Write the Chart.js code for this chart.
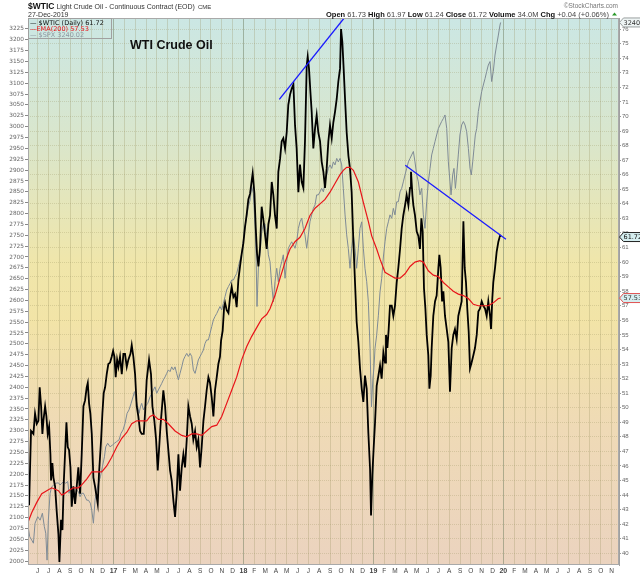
<!DOCTYPE html>
<html>
<head>
<meta charset="utf-8">
<script src="https://cdn.jsdelivr.net/npm/chart.js@4.4.1/dist/chart.umd.min.js"></script>
<style>
  html, body { margin: 0; padding: 0; background: #fff; }
  #wrap { width: 640px; height: 576px; }
</style>
</head>
<body>
<div id="wrap"><canvas id="chart" width="640" height="576"></canvas></div>
<script>
// x = months since Jan 2016 (12 = Jan 2017, 48 = Jan 2020)
var monthLetters = ['J', 'F', 'M', 'A', 'M', 'J', 'J', 'A', 'S', 'O', 'N', 'D'];
var monthTicks = [];
for (var mt = 5; mt <= 58; mt++) monthTicks.push(mt);
var spxTicks = [];
for (var st = 2000; st <= 3225; st += 25) spxTicks.push(st);
var wticTicks = [];
for (var wt = 40; wt <= 76; wt++) wticTicks.push(wt);

// $WTIC daily close (right axis)
var wtic = [
  [4.08,44.3],[4.20,43.3],[4.38,48.4],[4.60,48.2],[4.75,49.6],[4.91,48.9],[5.06,49.1],[5.18,51.4],[5.31,50.1],[5.43,48.2],
  [5.52,49.1],[5.68,50.1],[5.80,49.4],[5.92,48.2],[6.05,48.7],[6.17,46.8],[6.23,45.0],[6.35,46.2],[6.45,45.2],[6.60,44.6],
  [6.75,42.9],[6.91,41.3],[7.00,39.4],[7.15,42.3],[7.28,41.6],[7.40,44.8],[7.52,46.8],[7.65,49.0],[7.77,47.3],[7.89,47.1],
  [8.02,45.9],[8.14,43.2],[8.29,44.6],[8.45,43.4],[8.60,44.6],[8.75,45.9],[8.91,44.1],[9.06,46.8],[9.22,50.1],[9.37,50.5],
  [9.52,51.4],[9.62,51.7],[9.74,50.3],[9.86,49.6],[9.99,48.2],[10.14,45.2],[10.29,44.6],[10.39,44.1],[10.54,43.4],[10.66,45.5],
  [10.85,47.8],[10.97,49.6],[11.09,51.0],[11.22,51.4],[11.37,52.3],[11.52,53.0],[11.68,53.1],[11.83,53.5],[11.96,53.9],[12.08,53.5],
  [12.20,52.1],[12.33,53.3],[12.45,52.8],[12.60,53.5],[12.76,52.3],[12.91,53.7],[13.06,53.7],[13.22,52.8],[13.37,53.3],[13.56,53.7],
  [13.68,54.3],[13.83,53.5],[13.99,52.3],[14.14,50.1],[14.29,49.4],[14.45,48.4],[14.60,48.2],[14.79,48.2],[14.91,49.6],[15.06,51.9],
  [15.28,53.3],[15.46,52.3],[15.59,50.1],[15.77,49.1],[15.93,47.8],[16.08,45.7],[16.20,47.1],[16.33,48.7],[16.45,49.8],[16.60,51.2],
  [16.76,50.1],[16.91,48.4],[17.06,47.1],[17.22,45.7],[17.37,45.0],[17.53,43.6],[17.68,42.5],[17.83,44.1],[17.99,46.8],[18.14,44.3],
  [18.30,45.9],[18.45,46.8],[18.60,45.9],[18.76,47.8],[18.91,50.1],[19.07,49.4],[19.22,48.9],[19.37,47.8],[19.53,48.4],[19.68,47.3],
  [19.83,47.8],[19.99,45.9],[20.14,47.3],[20.30,49.1],[20.45,50.1],[20.60,51.2],[20.76,52.1],[20.91,51.7],[21.07,50.7],[21.22,49.4],
  [21.37,51.2],[21.53,52.1],[21.68,53.0],[21.83,53.5],[21.93,54.6],[22.08,55.3],[22.21,56.9],[22.30,57.2],[22.45,56.7],[22.61,56.5],
  [22.76,57.6],[22.91,58.3],[23.07,57.6],[23.22,57.8],[23.37,56.9],[23.53,58.8],[23.68,59.7],[23.84,60.6],[23.99,61.3],[24.14,62.4],
  [24.30,63.3],[24.45,64.3],[24.61,64.7],[24.76,65.6],[24.85,66.1],[25.01,64.7],[25.13,62.4],[25.25,60.6],[25.38,59.7],[25.53,61.0],
  [25.68,63.8],[25.84,62.9],[25.99,61.9],[26.14,60.9],[26.30,62.6],[26.45,63.2],[26.61,65.5],[26.76,64.6],[26.91,63.2],[27.07,62.3],
  [27.22,66.2],[27.38,67.1],[27.53,68.3],[27.68,68.5],[27.84,67.8],[27.99,68.9],[28.14,70.8],[28.30,71.5],[28.45,71.9],[28.61,72.2],
  [28.76,69.4],[28.91,67.8],[29.07,64.8],[29.22,66.7],[29.38,65.5],[29.53,65.1],[29.68,68.3],[29.84,73.5],[29.93,74.1],[30.05,73.3],
  [30.18,71.7],[30.30,70.3],[30.45,67.8],[30.61,69.2],[30.76,70.1],[30.91,68.9],[31.07,68.3],[31.22,66.9],[31.38,66.2],[31.53,65.1],
  [31.68,66.4],[31.84,68.3],[31.99,69.4],[32.15,68.5],[32.30,69.6],[32.45,70.3],[32.61,71.2],[32.76,72.4],[32.92,73.3],[33.01,76.0],
  [33.13,75.1],[33.25,73.3],[33.38,71.2],[33.53,68.9],[33.69,67.3],[33.84,66.4],[33.99,64.8],[34.15,61.4],[34.30,58.6],[34.45,55.9],
  [34.61,54.5],[34.76,52.7],[34.92,51.3],[35.07,50.4],[35.22,52.2],[35.38,51.3],[35.53,48.3],[35.69,45.8],[35.78,42.6],[35.90,45.4],
  [36.02,47.2],[36.15,49.0],[36.30,51.5],[36.46,52.2],[36.61,52.9],[36.76,52.0],[36.92,53.8],[37.07,53.1],[37.16,55.0],[37.29,54.1],
  [37.41,55.4],[37.53,57.0],[37.69,57.0],[37.84,56.3],[37.99,57.0],[38.15,58.6],[38.30,59.6],[38.46,60.9],[38.61,62.3],[38.76,63.2],
  [38.92,63.9],[39.07,64.6],[39.23,63.9],[39.38,65.1],[39.47,66.2],[39.60,64.6],[39.69,63.9],[39.84,63.2],[40.00,62.1],[40.15,61.8],
  [40.30,60.9],[40.43,63.0],[40.55,62.1],[40.67,58.2],[40.80,56.8],[40.92,55.0],[41.07,53.6],[41.17,51.3],[41.29,52.2],[41.38,54.1],
  [41.53,56.3],[41.69,57.3],[41.84,57.7],[42.00,59.6],[42.09,60.5],[42.21,59.6],[42.34,57.3],[42.46,58.0],[42.61,56.3],[42.77,55.4],
  [42.92,54.5],[43.07,51.1],[43.23,54.1],[43.38,55.0],[43.53,55.4],[43.69,54.7],[43.84,56.3],[43.99,56.8],[44.15,57.3],[44.31,62.8],
  [44.43,59.6],[44.55,58.6],[44.67,56.8],[44.80,55.2],[44.92,52.7],[45.07,53.1],[45.23,53.6],[45.38,54.1],[45.54,55.0],[45.69,56.6],
  [45.84,56.8],[46.00,57.3],[46.15,57.0],[46.31,56.8],[46.46,56.3],[46.61,57.3],[46.77,56.3],[46.86,55.4],[46.98,57.5],[47.07,58.6],
  [47.23,59.6],[47.38,60.7],[47.54,61.4],[47.69,61.8],[47.75,61.72]
];

// EMA(200) of $WTIC (right axis)
var ema200 = [
  [4.08,42.1],[4.45,42.8],[4.91,43.5],[5.37,44.1],[5.83,44.3],[6.29,44.5],[6.60,44.4],[6.91,44.3],[7.22,44.0],[7.46,44.1],
  [7.83,44.3],[8.29,44.5],[8.75,44.5],[9.06,44.7],[9.52,45.1],[9.99,45.6],[10.45,45.6],[10.91,45.6],[11.37,46.0],[11.83,46.6],
  [12.29,47.3],[12.76,47.9],[13.22,48.3],[13.68,48.9],[14.14,49.1],[14.60,49.1],[15.06,49.1],[15.37,49.4],[15.68,49.5],[16.14,49.2],
  [16.60,49.2],[17.06,48.9],[17.68,48.4],[18.30,48.1],[18.76,48.0],[19.22,48.2],[19.68,48.2],[20.14,48.1],[20.60,48.4],[21.07,48.7],
  [21.53,48.8],[21.99,49.4],[22.45,50.3],[22.91,51.2],[23.37,52.1],[23.84,53.3],[24.30,54.2],[24.76,54.9],[25.22,55.5],[25.68,56.1],
  [26.14,56.4],[26.45,56.8],[26.91,57.7],[27.38,58.9],[27.84,60.0],[28.30,60.9],[28.76,61.4],[29.22,61.7],[29.68,62.3],[30.14,63.2],
  [30.61,63.7],[31.07,64.0],[31.53,64.3],[31.99,64.8],[32.45,65.4],[32.92,66.0],[33.22,66.3],[33.53,66.5],[33.84,66.5],[34.15,66.3],
  [34.61,65.5],[35.07,64.1],[35.53,62.8],[35.84,61.8],[36.30,60.9],[36.61,60.2],[37.07,59.3],[37.53,59.1],[37.99,58.9],[38.46,58.9],
  [38.92,59.2],[39.38,59.7],[39.84,60.0],[40.30,60.1],[40.61,60.0],[41.07,59.4],[41.53,59.1],[42.00,59.0],[42.46,58.6],[42.92,58.3],
  [43.38,58.0],[43.84,57.8],[44.31,57.7],[44.77,57.5],[45.23,57.1],[45.69,57.0],[46.15,57.0],[46.61,57.0],[47.07,57.2],[47.54,57.5],
  [47.75,57.53]
];

// $SPX daily close (left axis)
var spx = [
  [4.08,2083],[4.26,2056],[4.45,2048],[4.60,2041],[4.75,2087],[5.00,2102],[5.22,2094],[5.43,2110],[5.61,2079],[5.74,2064],
  [5.86,2002],[5.98,2094],[6.14,2156],[6.29,2171],[6.48,2175],[6.66,2179],[6.91,2180],[7.06,2175],[7.22,2179],[7.40,2183],
  [7.58,2179],[7.77,2183],[7.89,2156],[8.08,2171],[8.26,2163],[8.45,2148],[8.60,2163],[8.75,2160],[8.91,2148],[9.06,2156],
  [9.22,2156],[9.37,2148],[9.52,2140],[9.68,2140],[9.86,2133],[9.99,2117],[10.14,2087],[10.29,2140],[10.45,2163],[10.60,2179],
  [10.79,2194],[10.97,2217],[11.16,2240],[11.28,2263],[11.46,2271],[11.68,2263],[11.90,2267],[12.08,2271],[12.29,2275],[12.51,2279],
  [12.69,2294],[12.88,2302],[13.06,2317],[13.25,2340],[13.43,2348],[13.62,2363],[13.80,2378],[13.93,2390],[14.08,2371],[14.23,2355],
  [14.36,2340],[14.48,2355],[14.60,2363],[14.76,2348],[14.91,2355],[15.16,2363],[15.37,2378],[15.53,2386],[15.68,2394],[15.83,2401],
  [15.99,2386],[16.14,2394],[16.29,2401],[16.45,2409],[16.60,2417],[16.76,2424],[16.91,2432],[17.06,2440],[17.22,2436],[17.37,2447],
  [17.53,2440],[17.68,2447],[17.83,2432],[17.99,2417],[18.14,2432],[18.30,2447],[18.45,2463],[18.60,2471],[18.76,2478],[18.91,2471],
  [19.07,2478],[19.22,2471],[19.37,2440],[19.53,2432],[19.68,2447],[19.83,2463],[19.99,2471],[20.14,2478],[20.30,2486],[20.45,2501],
  [20.60,2509],[20.76,2509],[20.91,2524],[21.07,2540],[21.22,2555],[21.37,2563],[21.53,2570],[21.68,2578],[21.83,2586],[21.99,2578],
  [22.14,2593],[22.30,2609],[22.45,2624],[22.61,2632],[22.76,2639],[22.91,2647],[23.07,2647],[23.22,2655],[23.37,2662],[23.53,2678],
  [23.68,2693],[23.84,2708],[23.99,2739],[24.14,2770],[24.30,2793],[24.45,2816],[24.61,2831],[24.76,2862],[24.91,2847],[25.07,2770],
  [25.16,2708],[25.25,2586],[25.38,2678],[25.53,2708],[25.68,2755],[25.84,2778],[25.99,2776],[26.14,2751],[26.30,2705],[26.45,2689],
  [26.61,2635],[26.76,2597],[26.91,2643],[27.07,2674],[27.22,2643],[27.38,2674],[27.53,2689],[27.68,2705],[27.84,2651],[27.99,2689],
  [28.14,2720],[28.30,2728],[28.45,2735],[28.61,2728],[28.76,2720],[28.91,2735],[29.07,2766],[29.22,2781],[29.38,2789],[29.53,2766],
  [29.68,2751],[29.84,2720],[29.99,2751],[30.14,2781],[30.30,2797],[30.45,2812],[30.61,2820],[30.76,2843],[30.91,2843],[31.07,2850],
  [31.22,2858],[31.38,2850],[31.53,2873],[31.69,2889],[31.84,2904],[31.99,2912],[32.15,2904],[32.30,2919],[32.45,2912],[32.61,2927],
  [32.76,2919],[32.92,2927],[33.07,2912],[33.22,2858],[33.38,2797],[33.53,2751],[33.68,2720],[33.84,2674],[33.99,2720],[34.15,2751],
  [34.30,2720],[34.45,2674],[34.61,2720],[34.76,2766],[34.92,2781],[35.07,2720],[35.22,2674],[35.38,2643],[35.53,2597],[35.69,2490],
  [35.82,2355],[35.95,2420],[36.05,2445],[36.15,2490],[36.30,2520],[36.46,2566],[36.61,2620],[36.76,2650],[36.92,2700],[37.07,2735],
  [37.23,2766],[37.38,2781],[37.53,2797],[37.69,2789],[37.84,2812],[37.99,2797],[38.15,2827],[38.30,2827],[38.46,2850],[38.61,2858],
  [38.76,2873],[38.92,2889],[39.07,2904],[39.23,2919],[39.38,2927],[39.53,2935],[39.69,2943],[39.84,2919],[40.00,2889],[40.15,2873],
  [40.30,2843],[40.46,2858],[40.61,2797],[40.76,2766],[40.92,2827],[41.07,2873],[41.23,2904],[41.38,2935],[41.53,2950],[41.69,2966],
  [41.84,2981],[42.00,2996],[42.15,3004],[42.30,3012],[42.46,3019],[42.61,3027],[42.77,2996],[42.92,2919],[43.07,2873],[43.17,2843],
  [43.32,2889],[43.44,2904],[43.57,2858],[43.69,2889],[43.84,2935],[43.99,2981],[44.15,3004],[44.31,3012],[44.46,3004],[44.61,2989],
  [44.77,2950],[44.92,2904],[45.04,2889],[45.17,2919],[45.29,2950],[45.41,2981],[45.54,2996],[45.69,3035],[45.84,3058],[46.00,3081],
  [46.15,3096],[46.31,3111],[46.46,3127],[46.61,3142],[46.77,3150],[46.92,3104],[47.07,3127],[47.23,3165],[47.38,3188],[47.54,3211],
  [47.69,3234],[47.75,3240]
];

// hand-drawn trendlines on the oil price (right axis)
var trendTop = [[27.31,71.17],[33.30,76.76]];
var trendDown = [[38.94,66.65],[48.24,61.57]];

function pts(arr) {
  return arr.map(function (p) { return {x: p[0], y: p[1]}; });
}

var sans = 'Liberation Sans, Arial, sans-serif';
var verd = 'DejaVu Sans, Verdana, sans-serif';

function tag(ctx, y, text, border, fill, color) {
  ctx.beginPath();
  ctx.moveTo(619.5, y);
  ctx.lineTo(623.5, y - 4.5);
  ctx.lineTo(641, y - 4.5);
  ctx.lineTo(641, y + 4.5);
  ctx.lineTo(623.5, y + 4.5);
  ctx.closePath();
  ctx.fillStyle = fill;
  ctx.fill();
  ctx.strokeStyle = border;
  ctx.lineWidth = 1;
  ctx.stroke();
  ctx.fillStyle = color;
  ctx.font = '6.5px ' + verd;
  ctx.textAlign = 'left';
  ctx.textBaseline = 'middle';
  ctx.fillText(text, 623.5, y + 0.5);
}

var decor = {
  id: 'decor',
  beforeDraw: function (chart) {
    var ctx = chart.ctx, a = chart.chartArea;
    ctx.save();
    ctx.fillStyle = '#fff';
    ctx.fillRect(0, 0, chart.width, chart.height);
    var g = ctx.createLinearGradient(0, a.top, 0, a.bottom);
    g.addColorStop(0, '#cbe7e4');
    g.addColorStop(0.22, '#d9e6cc');
    g.addColorStop(0.45, '#f0e6aa');
    g.addColorStop(0.55, '#f2e4a7');
    g.addColorStop(0.75, '#efdab6');
    g.addColorStop(1, '#ebd3bf');
    ctx.fillStyle = g;
    ctx.fillRect(a.left, a.top, a.right - a.left, a.bottom - a.top);
    ctx.restore();
  },
  afterDraw: function (chart) {
    var ctx = chart.ctx, a = chart.chartArea;
    ctx.save();

    // frame
    ctx.strokeStyle = '#a9a9a9';
    ctx.lineWidth = 1;
    ctx.strokeRect(a.left + 0.5, a.top + 0.5, a.right - a.left - 1, a.bottom - a.top - 1);

    // header left
    ctx.textAlign = 'left';
    ctx.textBaseline = 'alphabetic';
    ctx.fillStyle = '#111';
    ctx.font = 'bold 8.5px ' + sans;
    ctx.fillText('$WTIC', 28, 8.5);
    var x = 28 + ctx.measureText('$WTIC').width + 2;
    ctx.fillStyle = '#333';
    ctx.font = '7px ' + sans;
    ctx.fillText('Light Crude Oil - Continuous Contract (EOD)', x, 8.5);
    x += ctx.measureText('Light Crude Oil - Continuous Contract (EOD)').width + 3;
    ctx.font = '6px ' + sans;
    ctx.fillText('CME', x, 8.5);
    ctx.font = '7px ' + sans;
    ctx.fillText('27-Dec-2019', 28, 16.5);

    // header right
    ctx.fillStyle = '#777';
    ctx.font = '6.5px ' + sans;
    ctx.textAlign = 'right';
    ctx.fillText('\u00a9StockCharts.com', 618, 8);
    var parts = [
      ['Open', true], [' 61.73 ', false], ['High', true], [' 61.97 ', false],
      ['Low', true], [' 61.24 ', false], ['Close', true], [' 61.72 ', false],
      ['Volume', true], [' 34.0M ', false], ['Chg', true], [' +0.04 (+0.06%) ', false]
    ];
    var total = 0;
    parts.forEach(function (p) {
      ctx.font = (p[1] ? 'bold ' : '') + '7.5px ' + sans;
      total += ctx.measureText(p[0]).width;
    });
    x = 611 - total;
    ctx.textAlign = 'left';
    parts.forEach(function (p) {
      ctx.font = (p[1] ? 'bold ' : '') + '7.5px ' + sans;
      ctx.fillStyle = p[1] ? '#111' : '#444';
      ctx.fillText(p[0], x, 16.5);
      x += ctx.measureText(p[0]).width;
    });
    ctx.fillStyle = '#2a9a2a';
    ctx.beginPath();
    ctx.moveTo(x + 1, 15.5);
    ctx.lineTo(x + 6, 15.5);
    ctx.lineTo(x + 3.5, 12.5);
    ctx.closePath();
    ctx.fill();

    // legend box
    ctx.strokeStyle = '#a0a0a0';
    ctx.strokeRect(28.5, 18.5, 83, 20);
    var rows = [
      ['\u2014 $WTIC (Daily) 61.72', '#111', 23],
      ['\u2014EMA(200) 57.53', '#e8141a', 29.2],
      ['\u2014 $SPX 3240.02', '#8e99a3', 35]
    ];
    ctx.font = '6.5px ' + verd;
    ctx.textBaseline = 'middle';
    rows.forEach(function (r) {
      ctx.fillStyle = r[1];
      ctx.fillText(r[0], 30, r[2]);
    });

    // title
    ctx.fillStyle = '#111';
    ctx.font = 'bold 12.5px ' + sans;
    ctx.textBaseline = 'alphabetic';
    ctx.fillText('WTI Crude Oil', 130, 48.5);

    // value tags on right axis
    tag(ctx, chart.scales.y.getPixelForValue(3240.02), '3240.02', '#9aa0a0', '#eef4f4', '#333');
    tag(ctx, chart.scales.y1.getPixelForValue(61.72), '61.72', '#222', '#d5eef0', '#111');
    tag(ctx, chart.scales.y1.getPixelForValue(57.53), '57.53', '#e05050', '#d5eef0', '#333');

    ctx.restore();
  }
};

var ctx = document.getElementById('chart').getContext('2d');
var chart = new Chart(ctx, {
  type: 'line',
  data: {
    datasets: [
      {label: 'trend1', data: pts(trendTop), yAxisID: 'y1', borderColor: '#1a1aff', borderWidth: 1.3, pointRadius: 0},
      {label: 'trend2', data: pts(trendDown), yAxisID: 'y1', borderColor: '#1a1aff', borderWidth: 1.3, pointRadius: 0},
      {label: 'EMA(200)', data: pts(ema200), yAxisID: 'y1', borderColor: '#e8141a', borderWidth: 1.2, pointRadius: 0},
      {label: '$WTIC', data: pts(wtic), yAxisID: 'y1', borderColor: '#000', borderWidth: 1.8, pointRadius: 0},
      {label: '$SPX', data: pts(spx), yAxisID: 'y', borderColor: '#7f8b96', borderWidth: 1, pointRadius: 0}
    ]
  },
  options: {
    responsive: false,
    animation: false,
    layout: {padding: {top: 18, left: 0, right: 0, bottom: 0}},
    plugins: {legend: {display: false}, tooltip: {enabled: false}},
    scales: {
      x: {
        type: 'linear',
        min: 4.1,
        max: 58.68,
        afterBuildTicks: function (s) { s.ticks = monthTicks.map(function (v) { return {value: v}; }); },
        afterFit: function (s) { s.height = 11; },
        border: {display: false},
        grid: {
          drawTicks: false,
          color: function (c) {
            return (c.tick && c.tick.value % 12 === 0) ? 'rgba(110,125,95,0.5)' : 'rgba(150,145,95,0.28)';
          }
        },
        ticks: {
          autoSkip: false,
          maxRotation: 0,
          padding: 2,
          color: '#444',
          font: function (c) {
            var yr = c.tick && c.tick.value % 12 === 0;
            return {family: sans, size: yr ? 7 : 6.5, weight: yr ? 'bold' : 'normal'};
          },
          callback: function (v) {
            var mi = ((v % 12) + 12) % 12;
            if (mi === 0) return String(2016 + v / 12).slice(2);
            return monthLetters[mi];
          }
        }
      },
      y: {
        position: 'left',
        min: 1990.8,
        max: 3250.3,
        afterBuildTicks: function (s) { s.ticks = spxTicks.map(function (v) { return {value: v}; }); },
        afterFit: function (s) { s.width = 28; },
        border: {display: false},
        grid: {drawOnChartArea: false, tickLength: 3, tickColor: '#888'},
        ticks: {
          padding: 1,
          color: '#666',
          font: {family: verd, size: 5.8},
          callback: function (v) { return String(v); }
        }
      },
      y1: {
        position: 'right',
        min: 39.2,
        max: 76.76,
        afterBuildTicks: function (s) { s.ticks = wticTicks.map(function (v) { return {value: v}; }); },
        afterFit: function (s) { s.width = 21; },
        border: {display: true, color: '#a0a0a0', dash: [1, 1]},
        grid: {color: 'rgba(150,145,95,0.28)', tickLength: 2, tickColor: '#999'},
        ticks: {
          padding: 1,
          color: '#666',
          font: {family: sans, size: 6},
          callback: function (v) { return String(v); }
        }
      }
    }
  },
  plugins: [decor]
});
</script>
</body>
</html>
